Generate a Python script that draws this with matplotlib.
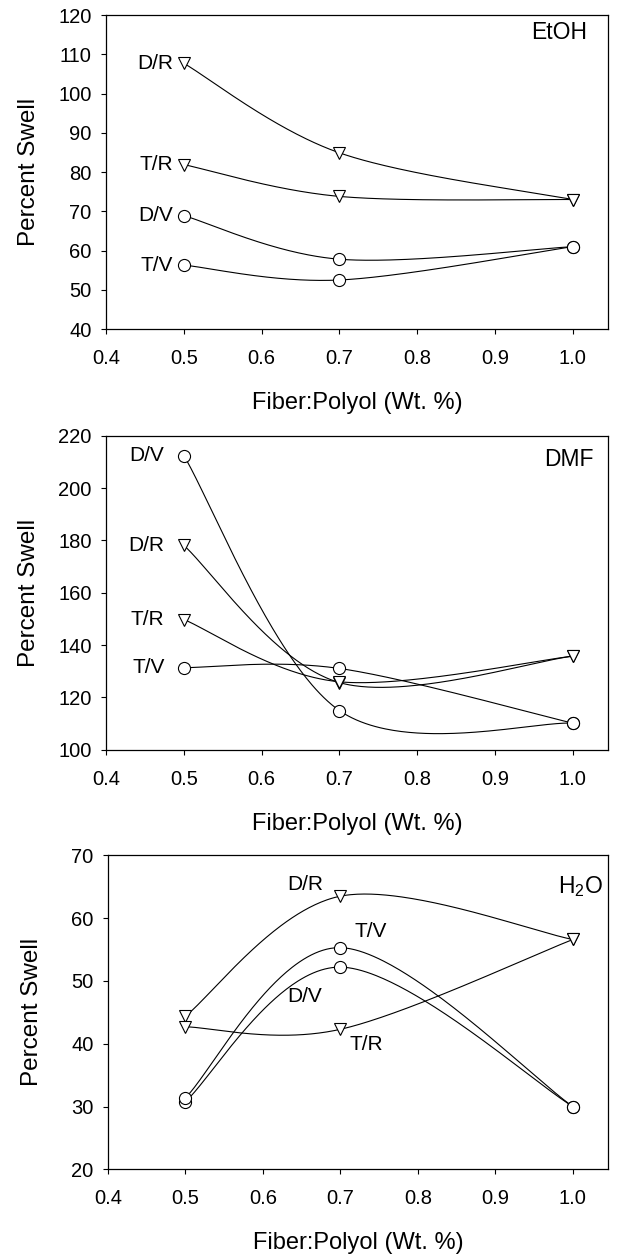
import numpy as np
import matplotlib
matplotlib.use('Agg')
import matplotlib.pyplot as plt

plt.rcParams['font.family'] = ['Liberation Sans', 'DejaVu Sans']
plt.rcParams['mathtext.default'] = 'regular'

# 数据
x_vals = [0.5, 0.7, 1.0]
series_names = ['D/R', 'T/R', 'D/V', 'T/V']
series_markers = ['v', 'v', 'o', 'o']

etoh_dr = [107.7, 84.9, 73.0]
etoh_tr = [81.9, 73.8, 73.0]
etoh_dv = [68.9, 57.8, 61.0]
etoh_tv = [56.3, 52.5, 61.0]

dmf_dr = [178.1, 125.7, 135.8]
dmf_tr = [149.8, 126.0, 135.8]
dmf_dv = [212.4, 115.0, 110.2]
dmf_tv = [131.4, 131.1, 110.2]

h2o_dr = [44.4, 63.5, 56.6]
h2o_tr = [42.7, 42.3, 56.6]
h2o_dv = [30.8, 52.2, 30.0]
h2o_tv = [31.4, 55.3, 30.0]

x_ticks = [0.4, 0.5, 0.6, 0.7, 0.8, 0.9, 1.0]
panels = [
    dict(name='EtOH', data=[etoh_dr, etoh_tr, etoh_dv, etoh_tv],
         ylim=(40, 120), yticks=range(40, 121, 10)),
    dict(name='DMF', data=[dmf_dr, dmf_tr, dmf_dv, dmf_tv],
         ylim=(100, 220), yticks=range(100, 221, 20)),
    dict(name='H$_2$O', data=[h2o_dr, h2o_tr, h2o_dv, h2o_tv],
         ylim=(20, 70), yticks=range(20, 71, 10)),
]


def smooth_curve(x, y, n=100):
    # 平滑连线 (类似 Excel 的 Bezier 平滑)
    P = np.column_stack([x, y]).astype(float)
    m = len(P)
    t = np.linspace(0, 1, n)[:, None]
    pts = []
    for i in range(m - 1):
        p_prev = P[max(i - 1, 0)]
        p_next2 = P[min(i + 2, m - 1)]
        c1 = P[i] + (P[i + 1] - p_prev) / 6
        c2 = P[i + 1] - (p_next2 - P[i]) / 6
        seg = (1 - t) ** 3 * P[i] + 3 * (1 - t) ** 2 * t * c1 \
            + 3 * (1 - t) * t ** 2 * c2 + t ** 3 * P[i + 1]
        pts.append(seg)
    pts = np.vstack(pts)
    return pts[:, 0], pts[:, 1]


fig = plt.figure(figsize=(6.17, 12.56), dpi=100)
axes_boxes = [
    [0.172, 0.738, 0.813, 0.250],
    [0.172, 0.403, 0.813, 0.250],
    [0.175, 0.069, 0.810, 0.250],
]

axs = []
for p, box in zip(panels, axes_boxes):
    ax = fig.add_axes(box)
    for vals, mk in zip(p['data'], series_markers):
        xs, ys = smooth_curve(x_vals, vals)
        ax.plot(xs, ys, color='black', linewidth=0.8, zorder=2)
        ax.plot(x_vals, vals, linestyle='none', marker=mk,
                markersize=9 if mk == 'v' else 8.7,
                markerfacecolor='white', markeredgecolor='black',
                markeredgewidth=0.8, zorder=3)
    ax.set_xlim(0.4, 1.045)
    ax.set_ylim(*p['ylim'])
    ax.set_xticks(x_ticks)
    ax.set_xticklabels([f'{t:.1f}' for t in x_ticks])
    ax.set_yticks(list(p['yticks']))
    ax.tick_params(direction='out', length=3.5, width=0.8, labelsize=14.5)
    ax.tick_params(axis='x', pad=11)
    ax.tick_params(axis='y', pad=7)
    for s in ax.spines.values():
        s.set_linewidth(0.9)
    ax.set_ylabel('Percent Swell', fontsize=17.5)
    ax.set_xlabel('Fiber:Polyol (Wt. %)', fontsize=17)
    ax.yaxis.set_label_coords(-0.131, 0.5)
    ax.xaxis.set_label_coords(0.5, -0.2)
    axs.append(ax)

ax1, ax2, ax3 = axs

# 溶剂标注
ax1.text(0.958, 0.943, panels[0]['name'], transform=ax1.transAxes, ha='right', va='center', fontsize=16.5)
ax2.text(0.972, 0.925, panels[1]['name'], transform=ax2.transAxes, ha='right', va='center', fontsize=16.5)
ax3.text(0.99, 0.90, panels[2]['name'], transform=ax3.transAxes, ha='right', va='center', fontsize=16.5)

# 系列标注
for ax, data, gap in [(ax1, panels[0]['data'], -8), (ax2, panels[1]['data'], -14)]:
    for name, vals in zip(series_names, data):
        ax.annotate(name, (x_vals[0], vals[0]), xytext=(gap, 0), textcoords='offset points',
                    ha='right', va='center', fontsize=15)

ax3.text(0.655, 65.3, 'D/R', ha='center', va='center', fontsize=15)
ax3.text(0.739, 57.9, 'T/V', ha='center', va='center', fontsize=15)
ax3.text(0.654, 47.6, 'D/V', ha='center', va='center', fontsize=15)
ax3.text(0.734, 39.9, 'T/R', ha='center', va='center', fontsize=15)

fig.savefig('out.png', dpi=100)
